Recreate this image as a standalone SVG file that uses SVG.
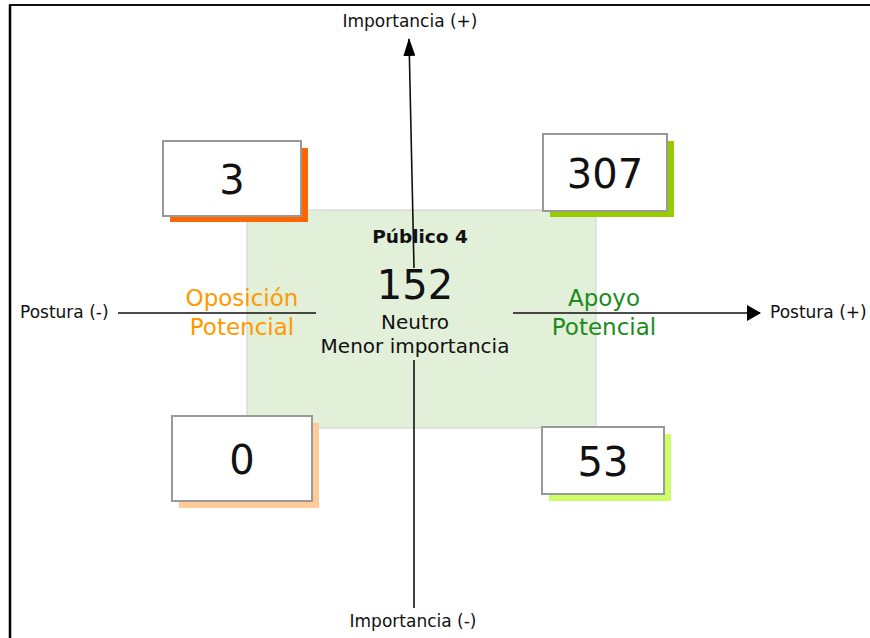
<svg xmlns="http://www.w3.org/2000/svg" width="870" height="638" viewBox="0 0 870 638">
<defs>
<marker id="arrUp" markerWidth="18" markerHeight="12" refX="17" refY="6" orient="auto" markerUnits="userSpaceOnUse" viewBox="0 0 18 12">
<path d="M0,0 L18,6 L0,12 Z" fill="#000"/>
</marker>
<marker id="arrBig" markerWidth="14" markerHeight="16" refX="13" refY="8" orient="auto" markerUnits="userSpaceOnUse" viewBox="0 0 14 16">
<path d="M0,0 L14,8 L0,16 Z" fill="#000"/>
</marker>
</defs>
<style>
text{font-family:"DejaVu Sans","Liberation Sans",sans-serif;fill:#111}
.box{fill:#fff;stroke:#999;stroke-width:2}
.num{font-size:40px;text-anchor:middle}
.ax{font-size:17px}
.line{stroke:#111;stroke-width:1.6;fill:none}
</style>
<rect width="870" height="638" fill="#fff"/>
<g id="frame">
<line x1="9" y1="5" x2="870" y2="5" stroke="#111" stroke-width="2"/>
<line x1="10" y1="5" x2="10" y2="638" stroke="#000" stroke-width="2.5"/>
</g>
<g id="center">
<rect x="247" y="210" width="349" height="218" fill="#e2efd9" stroke="#cfcfcf" stroke-width="1"/>
</g>
<g id="connectors">
<line class="line" x1="414" y1="268" x2="409" y2="39" marker-end="url(#arrUp)"/>
<line class="line" x1="414" y1="360" x2="414" y2="608"/>
<line class="line" x1="118" y1="313" x2="316" y2="313"/>
<line class="line" x1="513" y1="313" x2="760" y2="313" marker-end="url(#arrBig)"/>
</g>
<g id="center-text">
<text x="420" y="243" font-size="18.5" font-weight="bold" text-anchor="middle">Público 4</text>
<text x="415" y="299" font-size="40" text-anchor="middle">152</text>
<text x="415" y="329" font-size="20" text-anchor="middle">Neutro</text>
<text x="415" y="353" font-size="20" text-anchor="middle">Menor importancia</text>
</g>
<g id="oposicion">
<text x="242" y="306" font-size="23" text-anchor="middle" style="fill:#ff9900">Oposición</text>
<text x="242" y="335" font-size="23" text-anchor="middle" style="fill:#ff9900">Potencial</text>
</g>
<g id="apoyo">
<text x="604" y="306" font-size="23" text-anchor="middle" style="fill:#1a8c1a">Apoyo</text>
<text x="604" y="335" font-size="23" text-anchor="middle" style="fill:#1a8c1a">Potencial</text>
</g>
<g id="box3">
<rect x="170" y="148" width="138" height="74" fill="#ff6600"/>
<rect class="box" x="163" y="141" width="138" height="75"/>
<text class="num" x="232" y="194">3</text>
</g>
<g id="box307">
<rect x="550" y="141" width="124" height="76" fill="#99cc00"/>
<rect class="box" x="543" y="134" width="124" height="77"/>
<text class="num" x="605" y="188">307</text>
</g>
<g id="box0">
<rect x="179" y="423" width="140" height="85" fill="#ffcc99"/>
<rect class="box" x="172" y="416" width="140" height="85"/>
<text class="num" x="242" y="474">0</text>
</g>
<g id="box53">
<rect x="549" y="434" width="122" height="67" fill="#ccff66"/>
<rect class="box" x="542" y="427" width="122" height="67"/>
<text class="num" x="603" y="476">53</text>
</g>
<g id="labels">
<text class="ax" x="20" y="318">Postura (-)</text>
<text class="ax" x="770" y="318">Postura (+)</text>
<text class="ax" x="410" y="27" text-anchor="middle">Importancia (+)</text>
<text class="ax" x="413" y="627" text-anchor="middle">Importancia (-)</text>
</g>
</svg>
